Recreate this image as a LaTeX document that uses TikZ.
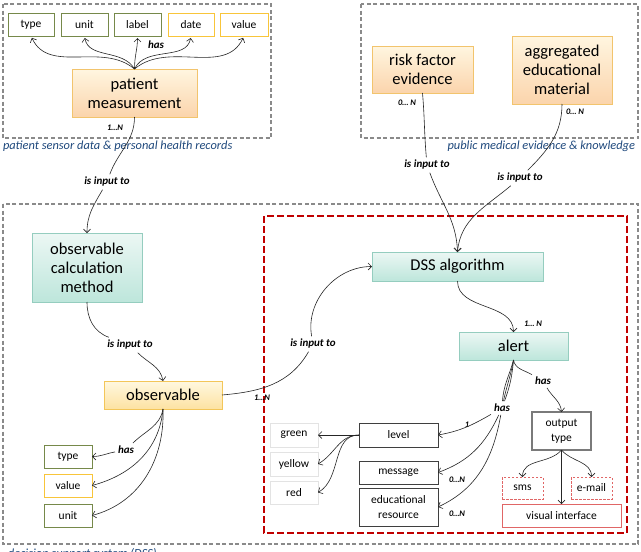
\documentclass[tikz,border=0pt]{standalone}
\usepackage{fontspec}
\setmainfont{Carlito}
\usetikzlibrary{arrows.meta,shadows}
\definecolor{orbd}{HTML}{F2C46D}
\definecolor{ortop}{HTML}{FFF6E0}
\definecolor{orbot}{HTML}{FBD4AC}
\definecolor{yebd}{HTML}{F3C659}
\definecolor{yetop}{HTML}{FFF8E0}
\definecolor{yebot}{HTML}{FDE2A2}
\definecolor{tlbd}{HTML}{95CDBF}
\definecolor{tltop}{HTML}{ECF7F4}
\definecolor{tlbot}{HTML}{BDE6DB}
\definecolor{olivebd}{HTML}{76894A}
\definecolor{goldbd}{HTML}{F8C53A}
\definecolor{lightbd}{HTML}{E3E3E3}
\definecolor{darkbd}{HTML}{3F3F3F}
\definecolor{midbd}{HTML}{7A7A7A}
\definecolor{dssred}{HTML}{C00000}
\definecolor{pinkred}{HTML}{E06666}
\definecolor{framegray}{HTML}{8A8A8A}
\definecolor{capblue}{HTML}{1F497D}
\begin{document}
\begin{tikzpicture}[x=1pt,y=-1pt,
  every node/.style={inner sep=0pt, outer sep=0pt},
  conn/.style={line width=0.6pt, draw=black!85},
  arr/.style={conn, -{Straight Barb[length=3.5pt,width=7pt,line width=0.6pt]}},
  bigbox/.style={font=\fontsize{16.5}{19}\selectfont, align=center, line width=0.8pt,
    drop shadow={shadow xshift=1.2pt,shadow yshift=-1.2pt,opacity=0.25}},
  orangebox/.style={bigbox, draw=orbd, top color=ortop, bottom color=orbot},
  yellowbox/.style={bigbox, draw=yebd, top color=yetop, bottom color=yebot},
  tealbox/.style={bigbox, draw=tlbd, top color=tltop, bottom color=tlbot},
  smallbox/.style={font=\fontsize{11.5}{15}\selectfont, align=center, fill=white},
  greenbox/.style={smallbox, draw=olivebd, line width=1pt},
  goldbox/.style={smallbox, draw=goldbd, line width=1pt},
  lightbox/.style={smallbox, draw=lightbd, line width=1pt},
  darkbox/.style={smallbox, draw=darkbd, line width=0.8pt},
  outbox/.style={smallbox, draw=midbd, line width=1.3pt},
  dashbox/.style={smallbox, draw=pinkred, line width=0.7pt, dash pattern=on 2.5pt off 1.5pt},
  solidbox/.style={smallbox, draw=pinkred, line width=0.8pt},
  lbltext/.style={font=\fontsize{11}{13}\selectfont\bfseries\itshape, inner sep=3pt},
  cardtext/.style={font=\fontsize{8.5}{10}\selectfont\bfseries\itshape},
  captext/.style={font=\fontsize{12.4}{14}\selectfont\itshape, text=capblue},
  framebox/.style={draw=framegray, line width=1.1pt, dash pattern=on 4pt off 2.5pt},
]
\clip (0,0) rectangle (641,552);
\fill[white] (0,0) rectangle (641,552);

% frames
\draw[framebox] (3,4) rectangle (271,138);
\draw[framebox] (361,4) rectangle (638,138);
\draw[framebox] (3,204) rectangle (638,544);
\draw[draw=dssred, line width=1.8pt, dash pattern=on 7pt off 3pt] (264,216) rectangle (627,533);

% captions
\node[captext, anchor=west] (c1) at (3,146) {patient sensor data \& personal health records};
\node[captext, anchor=east] (c2) at (635,146) {public medical evidence \& knowledge};
\node[captext, anchor=base west] (c3) at (8,557.5) {decision support system (DSS)};

% top-left
\node[greenbox, minimum width=46pt, minimum height=23pt] (t1) at (31,24.5) {type};
\node[greenbox, minimum width=47pt, minimum height=23pt] (u1) at (84.5,24.5) {unit};
\node[greenbox, minimum width=47pt, minimum height=23pt] (lb1) at (137.5,24.5) {label};
\node[goldbox, minimum width=46pt, minimum height=23pt] (d1) at (191,24.5) {date};
\node[goldbox, minimum width=48pt, minimum height=23pt] (v1) at (244,24.5) {value};
\node[orangebox, minimum width=125pt, minimum height=48pt] (pm) at (134.5,93) {patient\\measurement};

% top-right
\node[orangebox, minimum width=101pt, minimum height=47pt] (risk) at (422.5,69.5) {risk factor\\evidence};
\node[orangebox, minimum width=100pt, minimum height=68pt] (agg) at (562,70) {aggregated\\educational\\material};

% main
\node[tealbox, minimum width=110pt, minimum height=69pt] (ocm) at (87,267.5) {observable\\calculation\\method};
\node[yellowbox, minimum width=118pt, minimum height=28pt] (obs) at (163,395) {observable};
\node[greenbox, minimum width=48pt, minimum height=23pt] (t2) at (68,456.5) {type};
\node[goldbox, minimum width=48pt, minimum height=23pt] (v2) at (68,485.5) {value};
\node[greenbox, minimum width=48pt, minimum height=23pt] (u2) at (68,515.5) {unit};
\node[tealbox, minimum width=171pt, minimum height=29pt] (dss) at (457.5,266.5) {DSS algorithm};
\node[tealbox, minimum width=109pt, minimum height=28pt] (alert) at (513.5,346) {alert};
\node[lightbox, minimum width=48pt, minimum height=24pt] (green) at (294,435) {green};
\node[lightbox, minimum width=48pt, minimum height=24pt] (yellow) at (294,464) {yellow};
\node[lightbox, minimum width=48pt, minimum height=23pt] (red) at (294,492.5) {red};
\node[darkbox, minimum width=79pt, minimum height=24pt] (level) at (398.5,435) {level};
\node[darkbox, minimum width=79pt, minimum height=23pt] (msg) at (398.5,472.5) {message};
\node[darkbox, minimum width=79pt, minimum height=38pt] (edu) at (398.5,507) {educational\\resource};
\node[outbox, minimum width=59pt, minimum height=38pt] (outt) at (561.5,431) {output\\type};
\node[dashbox, minimum width=41pt, minimum height=22pt] (sms) at (522.5,488) {sms};
\node[dashbox, minimum width=41pt, minimum height=22pt] (email) at (591.5,488) {e-mail};
\node[solidbox, minimum width=119pt, minimum height=23pt] (vis) at (561.5,515.5) {visual interface};

% labels
\node[lbltext] (hastop) at (156,45) {has};
\node[cardtext] (cpm) at (115,128) {1…N};
\node[lbltext] (l1) at (107,182) {is input to};
\node[cardtext] (crisk) at (407,103) {0… N};
\node[cardtext] (cagg) at (575,112) {0… N};
\node[lbltext] (l4) at (427,165) {is input to};
\node[lbltext] (l5) at (520,178) {is input to};
\node[lbltext] (l2) at (130,345) {is input to};
\node[lbltext] (l3) at (313,344) {is input to};
\node[cardtext] (cobs) at (262,398) {1…N};
\node[cardtext] (cdss) at (533,324) {1… N};
\node[lbltext] (hobs) at (126,450) {has};
\node[lbltext] (h1) at (502,408) {has};
\node[lbltext] (h2) at (543,381) {has};
\node[cardtext] (clev) at (467,425) {1};
\node[cardtext] (cmsg) at (457,480) {0…N};
\node[cardtext] (cedu) at (457,514) {0…N};

% connectors top-left
\draw[arr, shorten >=2pt] (pm.north) to[out=140,in=-65] (t1.south);
\draw[arr, shorten >=2pt] (pm.north) to[out=120,in=-80] (u1.south);
\draw[arr, shorten >=2pt] (pm.north) to[out=90,in=-90] (lb1.south);
\draw[arr, shorten >=2pt] (pm.north) to[out=65,in=-100] (d1.south);
\draw[arr, shorten >=2pt] (pm.north) to[out=40,in=-115] (v1.south);

\draw[arr] (pm.south) to[out=-90,in=70] (l1) to[out=-120,in=90] (ocm.north);
\draw[arr] (ocm.south) to[out=-90,in=160] (l2) to[out=-45,in=100] (obs.north);
\draw[arr] (obs.east) to[out=5,in=-120] (l3) to[out=100,in=180] (dss.west);
\draw[arr] (risk.south) to[out=-85,in=95] (l4) to[out=-70,in=92] (dss.north);
\draw[arr] (agg.south) to[out=-90,in=45] (l5) to[out=-140,in=85] (dss.north);
\draw[arr] (dss.south) to[out=-90,in=90] (alert.north);

% observable has
\draw[arr] (obs.south) to[out=-100,in=45] (hobs) to[out=190,in=0] (t2.east);
\draw[arr] (obs.south) to[out=-95,in=15] (v2.east);
\draw[arr] (obs.south) to[out=-88,in=15] (u2.east);

% alert has
\draw[arr] (alert.south) to[out=-80,in=150] (h2) to[out=-60,in=95] (outt.north);
\draw[arr] (alert.south) to[out=-95,in=70] (h1) to[out=-150,in=10] (level.east);
\draw[arr] (alert.south) to[out=-100,in=78] (h1) to[out=-115,in=20] (msg.east);
\draw[arr] (alert.south) to[out=-105,in=86] (h1) to[out=-100,in=25] (edu.east);

% level colours
\draw[arr] (level.west) -- (green.east);
\draw[arr] (level.west) to[out=180,in=30] (yellow.east);
\draw[arr] (level.west) to[out=180,in=30] (red.east);

% output types
\draw[arr] (outt.south) to[out=-130,in=90] (sms.north);
\draw[arr] (outt.south) -- (vis.north);
\draw[arr] (outt.south) to[out=-50,in=90] (email.north);
\end{tikzpicture}
\end{document}
